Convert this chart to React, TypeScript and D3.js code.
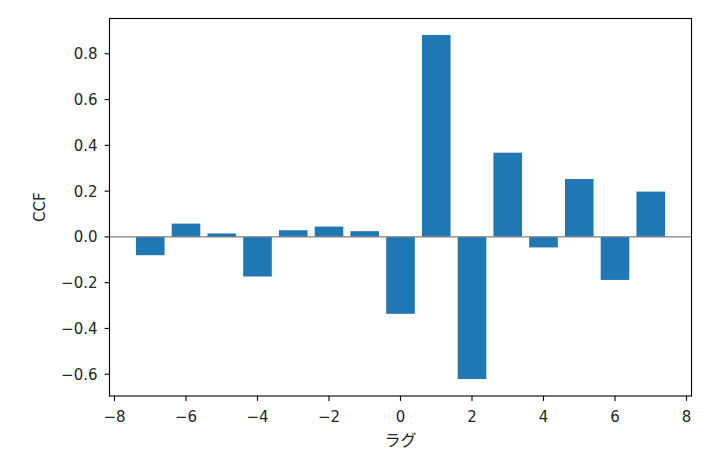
import * as d3 from "d3";

// lags and cross-correlation values
const lags = [-7, -6, -5, -4, -3, -2, -1, 0, 1, 2, 3, 4, 5, 6, 7];
const ccf = [
  -0.08, 0.058, 0.015, -0.173, 0.029, 0.045, 0.025, -0.336, 0.882, -0.621,
  0.368, -0.046, 0.253, -0.188, 0.198,
];
const xTicks = [-8, -6, -4, -2, 0, 2, 4, 6, 8];
const yTicks = [-0.6, -0.4, -0.2, 0, 0.2, 0.4, 0.6, 0.8];

const width = 710;
const height = 460;
const marginTop = 18.5;
const marginRight = 18.5;
const marginBottom = 64;
const marginLeft = 109.5;
const barWidth = 0.8;
const font = "DejaVu Sans, sans-serif";
const fontSize = 15;

const fmt = (v: number) => {
  const s = v.toFixed(1);
  return s.startsWith("-") ? "\u2212" + s.slice(1) : s;
};
const fmtInt = (v: number) => (v < 0 ? "\u2212" + Math.abs(v) : String(v));

export default function App() {
  const x = d3.scaleLinear([-8.14, 8.14], [marginLeft, width - marginRight]);
  const y = d3.scaleLinear(
    [-0.6952, 0.9542],
    [height - marginBottom, marginTop],
  );
  const x0 = x.range()[0];
  const x1 = x.range()[1];
  const y0 = y.range()[0];
  const y1 = y.range()[1];

  return (
    <svg
      width={width}
      height={height}
      style={{ position: "absolute", left: 0, top: 0, background: "#fff" }}
    >
      <g>
        {lags.map((lag, i) => {
          const v = ccf[i];
          return (
            <rect
              key={lag}
              x={x(lag - barWidth / 2)}
              width={x(lag + barWidth / 2) - x(lag - barWidth / 2)}
              y={y(Math.max(0, v))}
              height={Math.abs(y(v) - y(0))}
              fill="#1f77b4"
            />
          );
        })}
      </g>
      <line
        x1={x0}
        x2={x1}
        y1={y(0)}
        y2={y(0)}
        stroke="#808080"
        strokeWidth={1.1}
      />
      <rect
        x={x0}
        y={y1}
        width={x1 - x0}
        height={y0 - y1}
        fill="none"
        stroke="#000"
        strokeWidth={1.1}
      />
      <g fontFamily={font} fontSize={fontSize} fill="#262626">
        {xTicks.map((t) => (
          <g key={t} transform={`translate(${x(t)},${y0})`}>
            <line y2={4.9} stroke="#000" strokeWidth={1.1} />
            <text y={26} textAnchor="middle">
              {fmtInt(t)}
            </text>
          </g>
        ))}
        {yTicks.map((t) => (
          <g key={t} transform={`translate(${x0},${y(t)})`}>
            <line x2={-4.9} stroke="#000" strokeWidth={1.1} />
            <text x={-12} dy="0.36em" textAnchor="end">
              {fmt(t)}
            </text>
          </g>
        ))}
      </g>
      <text
        x={(x0 + x1) / 2}
        y={446}
        textAnchor="middle"
        fontFamily="Noto Sans CJK JP, sans-serif"
        fontSize={16}
        fill="#262626"
      >
        ラグ
      </text>
      <text
        transform={`translate(45,${(y0 + y1) / 2}) rotate(-90)`}
        textAnchor="middle"
        fontFamily={font}
        fontSize={fontSize}
        fill="#262626"
      >
        CCF
      </text>
    </svg>
  );
}
